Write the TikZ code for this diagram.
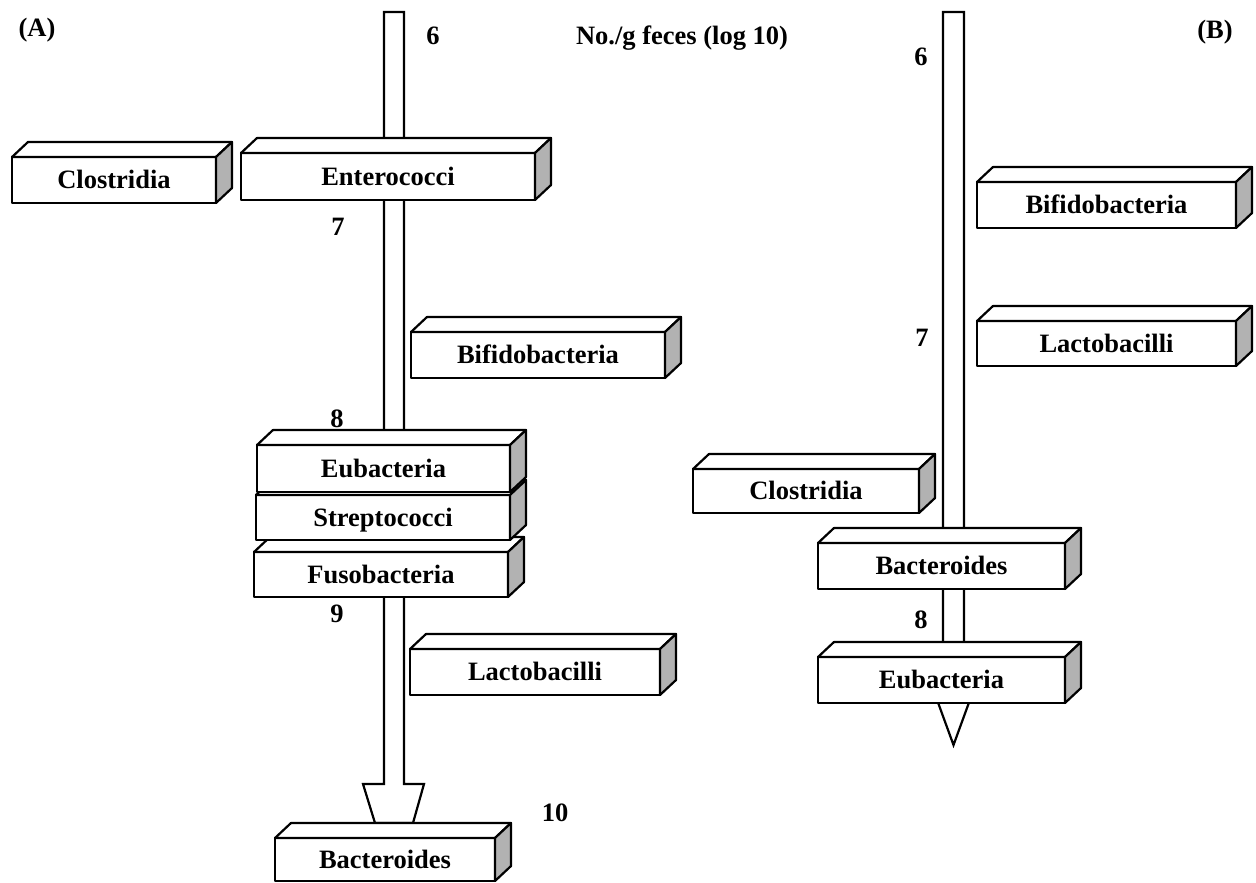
\documentclass[tikz,border=0pt]{standalone}
\usepackage{fontspec}
\setmainfont{Liberation Serif}
\definecolor{sidegray}{gray}{0.7}
\tikzset{
  cubeline/.style={line width=2.2pt, line join=round},
  cubefront/.style={cubeline, draw, fill=white, rectangle, inner sep=0pt, outer sep=0pt,
    font=\fontsize{26.5}{30}\selectfont\bfseries, text height=17pt, text depth=0pt},
  lbl/.style={inner sep=0pt, outer sep=0pt, font=\fontsize{26.5}{30}\selectfont\bfseries,
    text height=17pt, text depth=0pt, anchor=center},
  axis/.style={line width=2.2pt, line join=miter, draw, fill=white}
}
\newcommand\cubebox[6]{%
  \node[cubefront, minimum width=#4pt, minimum height=#5pt] (#1) at (#2,#3) {#6};
  \draw[cubeline, fill=white] (#1.north west) -- ++(16,-15) -- ([shift={(16,-15)}]#1.north east) -- (#1.north east) -- cycle;
  \draw[cubeline, fill=sidegray] (#1.north east) -- ++(16,-15) -- ([shift={(16,-15)}]#1.south east) -- (#1.south east) -- cycle;
}
\begin{document}
\begin{tikzpicture}[x=1pt,y=-1pt]
\useasboundingbox (0,0) rectangle (1256,883);
% ---------- Panel A axis ----------
\coordinate (atop) at (394,12);
\coordinate (atip) at (394,823);
\draw[axis] ([xshift=-10pt]atop) -- (384,784) -- (363,784) -- (375,823) -- (413,823) -- (424,784) -- (404,784) -- ([xshift=10pt]atop) -- cycle;
% ---------- Panel B axis ----------
\coordinate (btop) at (953.5,12);
\coordinate (btip) at (953.5,745);
\draw[axis] ([xshift=-10.5pt]btop) -- (943,697) -- (936,697) -- (btip) -- (971,697) -- (964,697) -- ([xshift=10.5pt]btop) -- cycle;
% ---------- Panel A boxes ----------
\cubebox{closA}{114}{180}{204}{46}{Clostridia}
\cubebox{entA}{388}{176.5}{294}{47}{Enterococci}
\cubebox{bifA}{538}{355}{254}{46}{Bifidobacteria}
\cubebox{fusA}{381}{574.5}{254}{45}{Fusobacteria}
\cubebox{strA}{383}{517.5}{254}{45}{Streptococci}
\cubebox{eubA}{383.5}{468.5}{253}{47}{Eubacteria}
\cubebox{lacA}{535}{672}{250}{46}{Lactobacilli}
\cubebox{bacA}{385}{859.5}{220}{43}{Bacteroides}
% ---------- Panel B boxes ----------
\cubebox{bifB}{1106.5}{205}{259}{46}{Bifidobacteria}
\cubebox{lacB}{1106.5}{343.5}{259}{45}{Lactobacilli}
\cubebox{closB}{806}{491}{226}{44}{Clostridia}
\cubebox{bacB}{941.5}{566}{247}{46}{Bacteroides}
\cubebox{eubB}{941.5}{680}{247}{46}{Eubacteria}
% ---------- Labels ----------
\node[lbl] (labA) at (37,28) {(A)};
\node[lbl] (labB) at (1215,30) {(B)};
\node[lbl] (unit) at (682,36) {No./g feces (log 10)};
\node[lbl] (a6) at (433,36) {6};
\node[lbl] (a7) at (338,227) {7};
\node[lbl] (a8) at (337,419) {8};
\node[lbl] (a9) at (337,614) {9};
\node[lbl] (a10) at (555,813) {10};
\node[lbl] (b6) at (921,57) {6};
\node[lbl] (b7) at (922,338) {7};
\node[lbl] (b8) at (921,620) {8};
\end{tikzpicture}
\end{document}
